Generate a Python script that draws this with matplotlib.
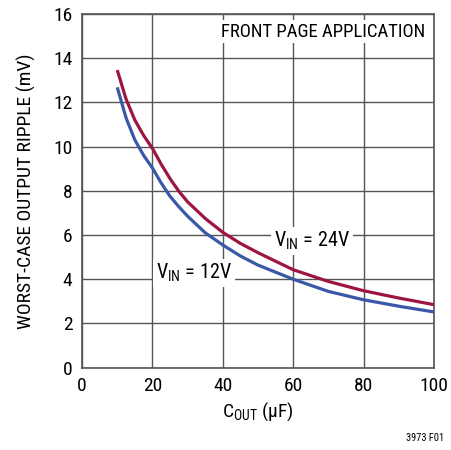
import matplotlib
matplotlib.use("Agg")
import matplotlib.pyplot as plt

plt.rcParams['font.family'] = ['Roboto Condensed', 'DejaVu Sans']
plt.rcParams['mathtext.fontset'] = 'custom'
plt.rcParams['mathtext.rm'] = 'Roboto Condensed'

cout = [10, 12.5, 15, 17.5, 20, 22.5, 25, 27.5, 30, 35, 40, 45, 50, 60, 70, 80, 90, 100]
ripple_24v = [13.46, 12.15, 11.2, 10.5, 9.92, 9.2, 8.55, 7.98, 7.5, 6.75, 6.12, 5.62, 5.2, 4.43, 3.9, 3.48, 3.15, 2.85]
ripple_12v = [12.68, 11.3, 10.3, 9.6, 9.03, 8.35, 7.75, 7.28, 6.85, 6.1, 5.55, 5.05, 4.64, 4.0, 3.45, 3.07, 2.78, 2.52]

xticks = [0, 20, 40, 60, 80, 100]
yticks = [0, 2, 4, 6, 8, 10, 12, 14, 16]

fig = plt.figure(figsize=(4.51, 4.5), dpi=100)
ax = fig.add_axes([0.182, 0.183, 0.780, 0.786])

ax.plot(cout, ripple_24v, color='#9E1640', lw=2.3, solid_capstyle='butt', zorder=3)
ax.plot(cout, ripple_12v, color='#3A58A8', lw=2.3, solid_capstyle='butt', zorder=3)

ax.set_xlim(0, 100)
ax.set_ylim(0, 16)
ax.set_xticks(xticks)
ax.set_yticks(yticks)
ax.tick_params(length=0, labelsize=14, pad=7, colors='black')
ax.grid(True, color='#555555', lw=1.0)
for s in ax.spines.values():
    s.set_color('#555555')
    s.set_linewidth(1.2)

ax.set_xlabel(r'C$_{\mathregular{OUT}}$ (µF)', fontsize=14, labelpad=4)
ax.set_ylabel('WORST-CASE OUTPUT RIPPLE (mV)', fontsize=14, labelpad=12)

box = dict(facecolor='white', edgecolor='none', pad=2)
ax.text(97.5, 15.2, 'FRONT PAGE APPLICATION', fontsize=13.5, ha='right', va='center', bbox=box, zorder=4)
ax.text(54.6, 5.75, r'V$_{\mathregular{IN}}$ = 24V', fontsize=14.5, ha='left', va='center', bbox=box, zorder=4)
ax.text(21.0, 4.3, r'V$_{\mathregular{IN}}$ = 12V', fontsize=14.5, ha='left', va='center', bbox=box, zorder=4)

fig.text(0.985, 0.026, '3973 F01', fontsize=7.5, ha='right', va='center')

fig.savefig('out.png', dpi=100)
